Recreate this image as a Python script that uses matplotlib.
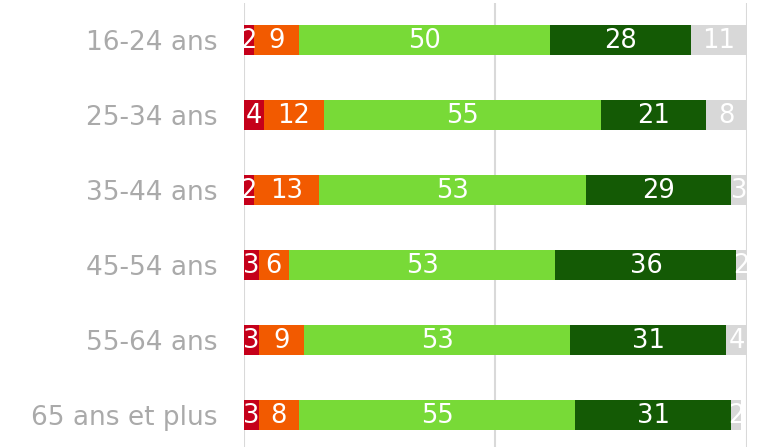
import numpy as np
import matplotlib.pyplot as plt

plt.rcParams['font.family'] = 'DejaVu Sans'

groups = ['16-24 ans', '25-34 ans', '35-44 ans', '45-54 ans', '55-64 ans', '65 ans et plus']
tres_negatif = [2, 4, 2, 3, 3, 3]
negatif = [9, 12, 13, 6, 9, 8]
positif = [50, 55, 53, 53, 53, 55]
tres_positif = [28, 21, 29, 36, 31, 31]
nsp = [11, 8, 3, 2, 4, 2]

series = [tres_negatif, negatif, positif, tres_positif, nsp]
colors = ['#c5001a', '#f25a00', '#78da37', '#145a05', '#d8d8d8']

fig = plt.figure(figsize=(7.62, 4.47), dpi=100)
ax = fig.add_axes([243.5/762, 0, 503/762, 1 - 3/447])

y = np.arange(len(groups))
left = np.zeros(len(groups))
for vals, col in zip(series, colors):
    vals = np.array(vals)
    ax.barh(y, vals, left=left, height=0.4, color=col, zorder=2)
    for yi, l, v in zip(y, left, vals):
        ax.text(l + v/2, yi + 0.02, str(v), ha='center', va='center', color='white',
                fontsize=18.5, clip_on=True, zorder=3)
    left = left + vals

for gx in [0, 50, 100]:
    ax.axvline(gx, color='#d9d9d9', lw=1.5, zorder=1)

ax.set_xlim(0, 100)
ax.set_ylim(5.427, -0.493)
ax.set_yticks(y)
ax.set_yticklabels(groups, color='#aaaaaa', fontsize=19)
ax.tick_params(axis='y', length=0, pad=19)
ax.set_xticks([])
for s in ax.spines.values():
    s.set_visible(False)

fig.savefig('out.png', dpi=100)
